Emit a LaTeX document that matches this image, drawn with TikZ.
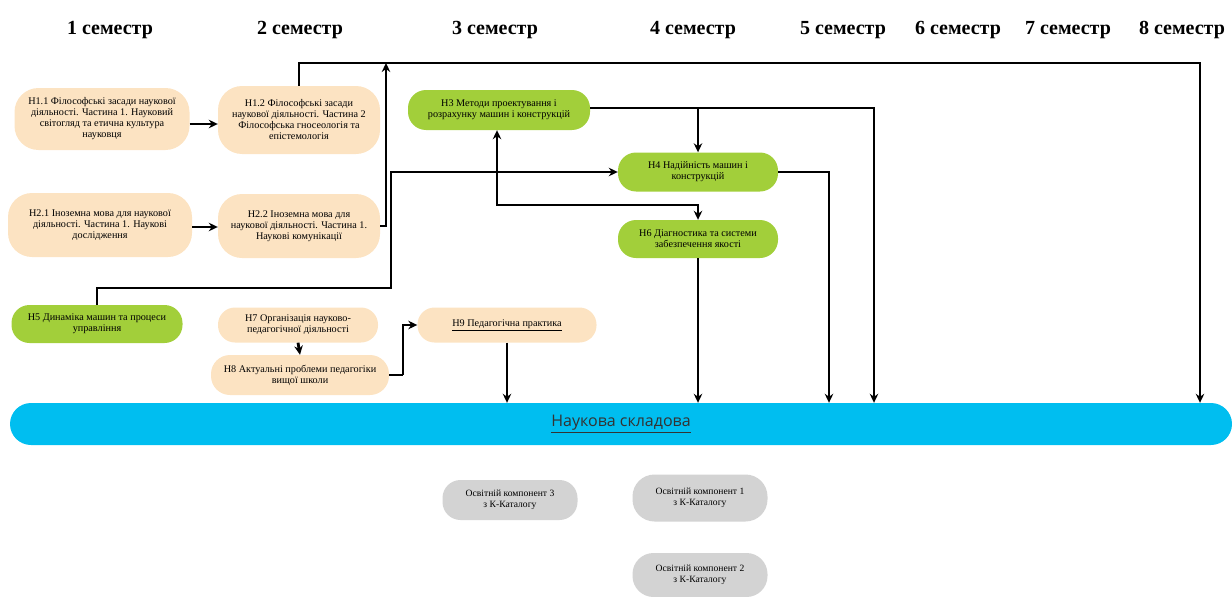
\documentclass[tikz,border=0pt]{standalone}
\usepackage{fontspec}
\setmainfont{Liberation Serif}
\newfontfamily\tnr{Liberation Serif}
\newfontfamily\barfont{Open Sans}
\usetikzlibrary{arrows.meta,calc}
\definecolor{peach}{HTML}{FCE3C2}
\definecolor{lime}{HTML}{A2CF3A}
\definecolor{greyc}{HTML}{D3D3D3}
\definecolor{cyanbar}{HTML}{00BEF0}
\tikzset{
  box/.style={rectangle, align=center, inner sep=2pt, font=\tnr\fontsize{10.2}{11}\selectfont},
  pbox/.style={box, fill=peach, rounded corners=24pt},
  gbox/.style={box, fill=lime, rounded corners=18pt},
  kbox/.style={box, fill=greyc, rounded corners=18pt, font=\tnr\fontsize{9.6}{11}\selectfont},
  sem/.style={font=\tnr\fontsize{20}{22}\selectfont\bfseries},
  arr/.style={line width=2.8pt, -{Stealth[length=9pt,width=8.5pt]}},
  ln/.style={line width=2.8pt},
  dbl/.style={line width=2.8pt, {Stealth[length=9pt,width=8.5pt]}-{Stealth[length=9pt,width=8.5pt]}}
}
\begin{document}
\begin{tikzpicture}[x=1pt,y=-1pt]
\useasboundingbox (0,0) rectangle (1232,597);
% headers
\node[sem] (s1) at (110,30) {1 семестр};
\node[sem] (s2) at (300,30) {2 семестр};
\node[sem] (s3) at (495,30) {3 семестр};
\node[sem] (s4) at (693,30) {4 семестр};
\node[sem] (s5) at (843,30) {5 семестр};
\node[sem] (s6) at (958,30) {6 семестр};
\node[sem] (s7) at (1068,30) {7 семестр};
\node[sem] (s8) at (1182,30) {8 семестр};
% nodes
\node[pbox, minimum width=175pt, minimum height=62pt] (n11) at (102,119) {Н1.1 Філософські засади наукової\\діяльності. Частина 1. Науковий\\світогляд та етична культура\\науковця};
\node[pbox, minimum width=162pt, minimum height=68pt] (n12) at (299,120) {Н1.2 Філософські засади\\наукової діяльності. Частина 2\\Філософська гносеологія та\\епістемологія};
\node[pbox, minimum width=184pt, minimum height=64pt] (n21) at (100,225) {Н2.1 Іноземна мова для наукової\\діяльності. Частина 1. Наукові\\дослідження};
\node[pbox, minimum width=162pt, minimum height=64pt] (n22) at (299,226) {Н2.2 Іноземна мова для\\наукової діяльності. Частина 1.\\Наукові комунікації};
\node[gbox, minimum width=171pt, minimum height=38pt] (n5) at (97,324) {Н5 Динаміка машин та процеси\\управління};
\node[pbox, minimum width=160pt, minimum height=35pt, rounded corners=17pt] (n7) at (298,325) {Н7 Організація науково-\\педагогічної діяльності};
\node[pbox, minimum width=178pt, minimum height=40pt, rounded corners=19pt] (n8) at (300,375) {Н8 Актуальні проблеми педагогіки\\вищої школи};
\node[pbox, minimum width=179pt, minimum height=35pt, rounded corners=17pt] (n9) at (507,325) {\underline{Н9 Педагогічна практика}};
\node[gbox, minimum width=182pt, minimum height=40pt] (n3) at (499,110) {Н3 Методи проектування і\\розрахунку машин і конструкцій};
\node[gbox, minimum width=160pt, minimum height=39pt] (n4) at (698,172) {Н4 Надійність машин і\\конструкцій};
\node[gbox, minimum width=160pt, minimum height=38pt] (n6) at (698,239) {Н6 Діагностика та системи\\забезпечення якості};
% bar
\node[fill=cyanbar, rounded corners=21pt, minimum width=1222pt, minimum height=42pt, inner sep=0pt,
      font=\barfont\fontsize{16}{18}\selectfont, text=black!80] (bar) at (621,424) {\underline{Наукова складова}};
% grey
\node[kbox, minimum width=135pt, minimum height=40pt] (k3) at (510,500) {Освітній компонент 3\\з К-Каталогу};
\node[kbox, minimum width=135pt, minimum height=47pt, rounded corners=22pt] (k1) at (700,498) {Освітній компонент 1\\з К-Каталогу};
\node[kbox, minimum width=135pt, minimum height=44pt, rounded corners=21pt] (k2) at (700,575) {Освітній компонент 2\\з К-Каталогу};
% helper coordinates
\coordinate (top8) at (1200,63);
\coordinate (j1) at (386,63);
\coordinate (t5) at (391,288);
\coordinate (r3) at (874,108);
\coordinate (r4) at (829,172);
\coordinate (d36) at (497,205);
\coordinate (p8) at (403,375);
% connectors
\draw[arr] (n11.east |- 0,124) -- (n12.west |- 0,124);
\draw[arr] (n21.east |- 0,227) -- (n22.west |- 0,227);
\draw[arr] (n12.north) |- (top8) -- (top8 |- bar.north);
\draw[arr] (n22.east) -| (j1);
\draw[arr] (n5.north) |- (t5) |- (n4.west);
\draw[arr] (n3.east |- r3) -- (r3) -- (r3 |- bar.north);
\draw[arr] (n4.north |- r3) -- (n4.north);
\draw[arr] (n4.east) -| (r4) -- (r4 |- bar.north);
\draw[dbl] (d36 |- n3.south) -- (d36) -| (n6.north);
\draw[arr] (n6.south) -- (n6.south |- bar.north);
\draw[arr] (n7.south) -- (n8.north);
\draw[ln] (n8.east) -- (p8);
\draw[arr] (p8) |- (n9.west);
\draw[arr] (n9.south) -- (n9.south |- bar.north);
\end{tikzpicture}
\end{document}
